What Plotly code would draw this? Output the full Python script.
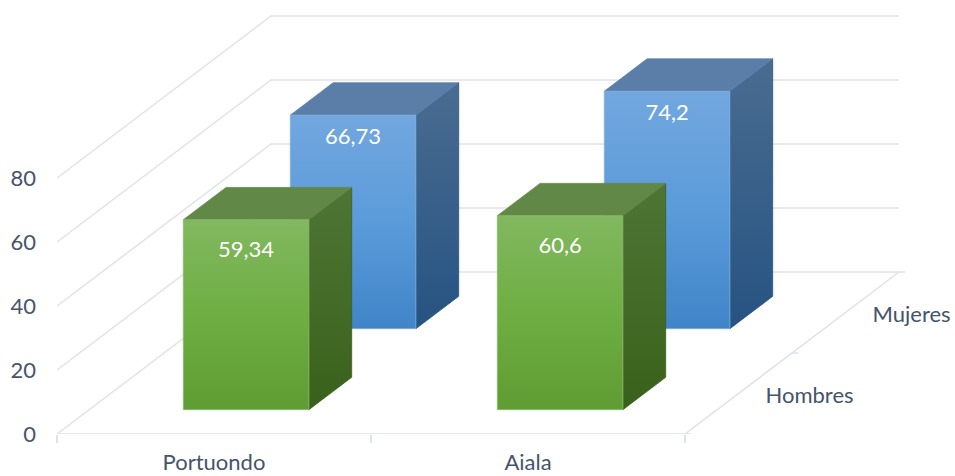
import plotly.graph_objects as go

# Chart values
categories = ["Portuondo", "Aiala"]
series_names = ["Hombres", "Mujeres"]
hombres_values = [59.34, 60.6]
mujeres_values = [66.73, 74.2]
value_ticks = [0, 20, 40, 60, 80]
value_labels = ["0", "20", "40", "60", "80"]

# Oblique projection: a unit of depth moves right and up by these axis amounts
PX_PER_CAT = 314.0
PX_PER_VAL = 3.2
DEPTH_X = 214.0 / PX_PER_CAT
DEPTH_Y = 162.0 / PX_PER_VAL
BAR_WIDTH = 0.4
BAR_DEPTH = 0.2

TEXT = "#44546A"
GRID = "#DFE2EB"
FONT = "Lato"
FONT_SIZE = 22

STYLES = {
    "Hombres": dict(
        front=[[0, "#5F9C33"], [0.5, "#6EAE42"], [1, "#82B860"]],
        side=[[0, "#3A611B"], [1, "#4F7535"]],
        top="#618846",
        edge="#8CBB6C",
        label_drop=32 / PX_PER_VAL,
    ),
    "Mujeres": dict(
        front=[[0, "#4085C8"], [0.5, "#5B9BDA"], [1, "#72A7DF"]],
        side=[[0, "#265382"], [1, "#4A6C91"]],
        top="#5A7EA8",
        edge="#7FAEDF",
        label_drop=23.5 / PX_PER_VAL,
    ),
}


def project(cat, depth, value):
    return cat + depth * DEPTH_X, value + depth * DEPTH_Y


def polygon(points, fill_args, line_color):
    xs, ys = zip(*[project(*p) for p in points + points[:1]])
    return go.Scatter(
        x=xs, y=ys, mode="lines", fill="toself", hoverinfo="skip",
        line=dict(color=line_color, width=0.8), **fill_args,
    )


def gradient(scale):
    return dict(fillgradient=dict(type="vertical", colorscale=scale),
                fillcolor="rgba(0,0,0,0)")


def line(points, clip=True, width=1.5):
    xs, ys = zip(*[project(*p) for p in points])
    return go.Scatter(x=xs, y=ys, mode="lines", hoverinfo="skip", cliponaxis=clip,
                      line=dict(color=GRID, width=width))


fig = go.Figure()

# Back wall, side wall and floor outline
n_cats = len(categories)
for v in value_ticks:
    fig.add_trace(line([(0, 0, v), (0, 1, v), (n_cats, 1, v)]))
fig.add_trace(line([(0, 0, 0), (n_cats, 0, 0), (n_cats, 1, 0)], clip=False))

# Tick marks along the depth edge
for d in (0, 0.5, 1):
    fig.add_trace(line([(n_cats, d, 0), (n_cats + 6 / PX_PER_CAT, d, 0)], clip=False))

# Bars, rear series first so the nearer one overlaps it
series_values = {"Hombres": hombres_values, "Mujeres": mujeres_values}
for s_idx in reversed(range(len(series_names))):
    name = series_names[s_idx]
    style = STYLES[name]
    d0 = (s_idx + 0.5) / len(series_names) - BAR_DEPTH / 2
    d1 = d0 + BAR_DEPTH
    for c_idx, value in enumerate(series_values[name]):
        x0 = c_idx + 0.5 - BAR_WIDTH / 2
        x1 = x0 + BAR_WIDTH
        fig.add_trace(polygon([(x1, d0, 0), (x1, d1, 0), (x1, d1, value), (x1, d0, value)],
                              gradient(style["side"]), style["side"][0][1]))
        fig.add_trace(polygon([(x0, d0, value), (x1, d0, value), (x1, d1, value), (x0, d1, value)],
                              dict(fillcolor=style["top"]), style["top"]))
        fig.add_trace(polygon([(x0, d0, 0), (x1, d0, 0), (x1, d0, value), (x0, d0, value)],
                              gradient(style["front"]), style["edge"]))
        lx, ly = project(c_idx + 0.5, d0, value - style["label_drop"])
        fig.add_trace(go.Scatter(
            x=[lx], y=[ly], mode="text", hoverinfo="skip",
            text=[f"{value:g}".replace(".", ",")],
            textposition="middle center",
            textfont=dict(family=FONT, size=FONT_SIZE, color="white"),
        ))

# Series names beside the depth edge
for s_idx, name in enumerate(series_names):
    lx, ly = project(n_cats + 27 / PX_PER_CAT, (s_idx + 0.5) / len(series_names), -3.5 / PX_PER_VAL)
    fig.add_trace(go.Scatter(
        x=[lx], y=[ly], mode="text", hoverinfo="skip", text=[name],
        textposition="middle right", cliponaxis=False,
        textfont=dict(family=FONT, size=FONT_SIZE, color=TEXT),
    ))

fig.update_layout(
    width=955, height=476,
    margin=dict(l=40, r=0, t=0, b=42, autoexpand=False),
    paper_bgcolor="white", plot_bgcolor="white",
    showlegend=False,
    font=dict(family=FONT, size=FONT_SIZE, color=TEXT),
    xaxis=dict(
        range=[-17 / PX_PER_CAT, 898 / PX_PER_CAT],
        tickmode="array",
        tickvals=[i + 0.5 for i in range(n_cats)],
        ticktext=categories,
        showgrid=False, zeroline=False, showline=False, ticks="",
        ticklabelstandoff=13,
        minor=dict(
            tickmode="array",
            tickvals=list(range(n_cats + 1)),
            ticks="outside", ticklen=8, tickwidth=1.5, tickcolor=GRID,
            showgrid=False,
        ),
    ),
    yaxis=dict(
        range=[0, 434 / PX_PER_VAL],
        tickmode="array",
        tickvals=value_ticks,
        ticktext=value_labels,
        showgrid=False, zeroline=False, showline=False, ticks="",
        ticklabelstandoff=3,
    ),
)

fig.write_html("out.html")
